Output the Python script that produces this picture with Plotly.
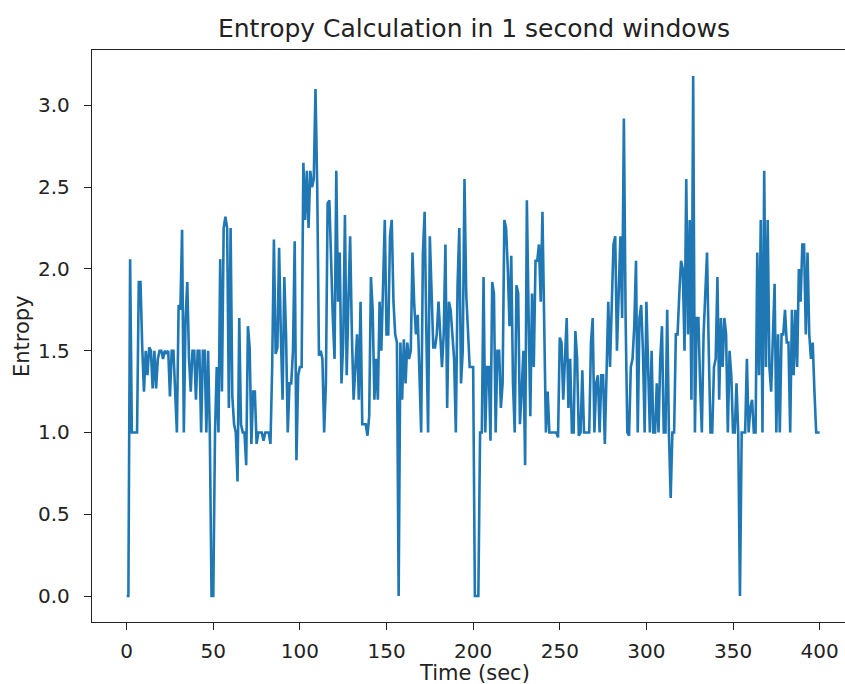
import plotly.graph_objects as go

# Entropy per 1-second window, t = 0 .. 400 s
entropy = [
    0, 0, 2.06, 1.0, 1.0, 1.0, 1.0, 1.92, 1.92, 1.52,
    1.25, 1.5, 1.35, 1.52, 1.5, 1.27, 1.5, 1.27, 1.45, 1.5,
    1.5, 1.45, 1.5, 1.48, 1.5, 1.22, 1.5, 1.5, 1.25, 1.0,
    1.78, 1.75, 2.24, 1.0, 1.7, 1.92, 1.45, 1.25, 1.5, 1.5,
    1.2, 1.5, 1.5, 1.0, 1.5, 1.5, 1.0, 1.5, 1.0, 0,
    0, 1.0, 1.4, 1.0, 2.06, 1.25, 2.25, 2.32, 2.25, 1.15,
    2.25, 1.22, 1.05, 1.0, 0.7, 1.7, 1.05, 1.0, 1.0, 0.8,
    1.65, 1.52, 0.93, 1.25, 1.25, 0.93, 1.0, 1.0, 1.0, 0.95,
    1.0, 1.0, 1.0, 0.93, 1.4, 2.18, 1.48, 1.52, 2.13, 1.6,
    1.2, 1.95, 1.6, 1.0, 1.3, 1.3, 1.5, 2.17, 0.83, 1.35,
    1.4, 1.4, 2.65, 2.3, 2.6, 2.25, 2.6, 2.5, 2.55, 3.1,
    2.5, 1.47, 1.5, 1.45, 1.0, 1.3, 2.4, 2.42, 2.0, 1.7,
    1.45, 2.6, 1.8, 2.1, 1.3, 1.55, 2.33, 1.35, 1.8, 2.2,
    1.6, 1.2, 1.4, 1.6, 1.2, 1.8, 1.05, 1.05, 1.05, 0.98,
    1.1, 1.95, 1.75, 1.2, 1.45, 1.2, 1.8, 1.5, 1.9, 2.3,
    1.6, 1.6, 2.2, 2.3, 1.8, 1.6, 1.55, 0, 1.55, 1.2,
    1.57, 1.3, 1.55, 1.45, 1.5, 2.1, 1.78, 1.6, 1.72, 1.4,
    1.0, 2.1, 2.35, 1.6, 1.0, 2.2, 1.8, 1.52, 1.52, 1.6,
    1.8, 1.55, 1.4, 1.6, 2.15, 1.15, 1.8, 1.75, 1.6, 1.45,
    1.0, 1.9, 2.25, 1.3, 1.5, 2.55, 1.85, 1.6, 1.4, 1.4,
    1.4, 0, 0, 0, 1.0, 1.0, 1.95, 1.0, 1.4, 1.4,
    0.95, 1.92, 1.85, 1.0, 1.5, 1.5, 1.15, 1.3, 2.3, 2.25,
    2.0, 1.65, 2.08, 1.3, 1.0, 1.9, 1.85, 1.05, 1.25, 1.5,
    0.8, 2.42, 1.72, 1.1, 1.85, 1.4, 2.05, 2.05, 2.15, 1.8,
    2.35, 1.5, 1.0, 1.25, 1.0, 1.0, 1.0, 1.0, 1.0, 0.97,
    1.58, 1.55, 1.2, 1.45, 1.7, 1.15, 1.45, 1.0, 1.0, 1.62,
    1.45, 0.98, 1.0, 1.38, 1.0, 1.0, 1.0, 1.0, 1.55, 1.7,
    1.0, 1.3, 1.35, 1.0, 1.35, 1.35, 0.93, 1.35, 1.8, 1.4,
    1.72, 2.15, 2.2, 1.5, 1.85, 2.2, 1.7, 2.92, 1.7, 1.0,
    0.98, 1.4, 1.45, 1.65, 2.05, 1.0, 1.7, 1.78, 1.5, 1.0,
    1.8, 1.35, 1.0, 1.5, 1.0, 1.0, 1.3, 1.0, 1.45, 1.65,
    1.0, 1.0, 1.75, 1.0, 0.6, 1.0, 1.0, 1.6, 1.6, 1.85,
    2.05, 2.0, 1.5, 2.55, 1.6, 2.3, 1.2, 3.18, 1.0, 1.7,
    1.7, 1.3, 1.0, 1.6, 1.9, 2.1, 1.5, 1.0, 1.0, 1.4,
    1.45, 1.95, 1.2, 1.7, 1.4, 1.7, 1.6, 1.0, 1.5, 1.35,
    1.0, 1.0, 1.3, 1.0, 0, 1.0, 1.0, 1.0, 1.45, 1.0,
    1.15, 1.2, 1.0, 1.0, 2.1, 1.35, 2.3, 1.0, 2.6, 1.4,
    2.3, 1.4, 1.25, 1.6, 1.91, 1.0, 1.6, 1.0, 1.6, 1.6,
    1.75, 1.55, 1.55, 1.0, 1.75, 1.35, 1.75, 1.4, 2.0, 1.8,
    2.15, 2.15, 1.6, 2.1, 1.6, 1.45, 1.55, 1.25, 1.0, 1.0,
    1.0,
]
time_sec = list(range(len(entropy)))

x_ticks = [0, 50, 100, 150, 200, 250, 300, 350, 400]
y_ticks = [0.0, 0.5, 1.0, 1.5, 2.0, 2.5, 3.0]
y_tick_text = [f"{v:.1f}" for v in y_ticks]

FONT = "DejaVu Sans"
INK = "#222222"

# canvas geometry (px)
W, H = 845, 684
L, R, T, B = 92, 0, 50, 62
plot_w = W - L - R
plot_h = H - T - B

fig = go.Figure(
    go.Scatter(
        x=time_sec,
        y=entropy,
        mode="lines",
        line=dict(color="#1f77b4", width=2.6),
        showlegend=False,
    )
)

y_pad = (max(entropy) - min(entropy)) * 0.05

axis_common = dict(
    showgrid=False,
    zeroline=False,
    showline=True,
    linecolor=INK,
    linewidth=1.4,
    ticks="outside",
    ticklen=7,
    tickwidth=1.4,
    tickcolor=INK,
    tickfont=dict(family=FONT, size=20, color=INK),
)

fig.update_layout(
    width=W,
    height=H,
    margin=dict(l=L, r=R, t=T, b=B),
    paper_bgcolor="white",
    plot_bgcolor="white",
    title=dict(
        text="Entropy Calculation in 1 second windows",
        x=474 / W,
        xref="container",
        xanchor="center",
        y=1 - 28 / H,
        yref="container",
        yanchor="middle",
        font=dict(family=FONT, size=25, color=INK),
    ),
    # x-axis continues past the right edge of the canvas, so only the
    # top line is mirrored
    xaxis=dict(
        range=[-20, -20 + plot_w / 1.7325],
        tickvals=x_ticks,
        ticktext=[str(v) for v in x_ticks],
        mirror=True,
        ticklabelstandoff=4,
        **axis_common,
    ),
    yaxis=dict(
        range=[min(entropy) - y_pad, max(entropy) + y_pad],
        tickvals=y_ticks,
        ticktext=y_tick_text,
        mirror=False,
        ticklabelstandoff=10,
        **axis_common,
    ),
    annotations=[
        dict(
            text="Time (sec)",
            xref="paper",
            yref="paper",
            x=(474 - L) / plot_w,
            y=-(673 - (T + plot_h)) / plot_h,
            yanchor="middle",
            showarrow=False,
            font=dict(family=FONT, size=21, color=INK),
        ),
        dict(
            text="Entropy",
            xref="paper",
            yref="paper",
            x=-(L - 22) / plot_w,
            y=0.5,
            xanchor="center",
            textangle=-90,
            showarrow=False,
            font=dict(family=FONT, size=21, color=INK),
        ),
    ],
)

fig.write_html("out.html")
